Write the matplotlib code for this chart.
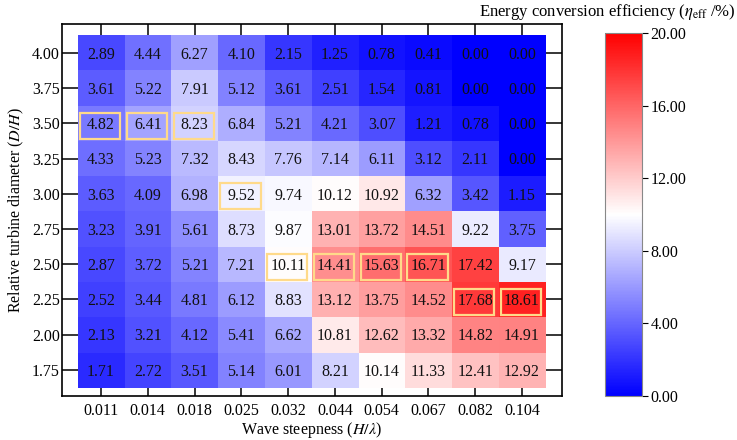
import numpy as np
import matplotlib.pyplot as plt
from matplotlib.patches import Rectangle

plt.rcParams['font.family'] = ['Liberation Serif', 'DejaVu Serif']
plt.rcParams['mathtext.fontset'] = 'stix'

# wave steepness (columns) and relative diameter (rows, top to bottom)
steepness = ['0.011', '0.014', '0.018', '0.025', '0.032',
             '0.044', '0.054', '0.067', '0.082', '0.104']
diameter = ['4.00', '3.75', '3.50', '3.25', '3.00',
            '2.75', '2.50', '2.25', '2.00', '1.75']

row_400 = [2.89, 4.44, 6.27, 4.10, 2.15, 1.25, 0.78, 0.41, 0.00, 0.00]
row_375 = [3.61, 5.22, 7.91, 5.12, 3.61, 2.51, 1.54, 0.81, 0.00, 0.00]
row_350 = [4.82, 6.41, 8.23, 6.84, 5.21, 4.21, 3.07, 1.21, 0.78, 0.00]
row_325 = [4.33, 5.23, 7.32, 8.43, 7.76, 7.14, 6.11, 3.12, 2.11, 0.00]
row_300 = [3.63, 4.09, 6.98, 9.52, 9.74, 10.12, 10.92, 6.32, 3.42, 1.15]
row_275 = [3.23, 3.91, 5.61, 8.73, 9.87, 13.01, 13.72, 14.51, 9.22, 3.75]
row_250 = [2.87, 3.72, 5.21, 7.21, 10.11, 14.41, 15.63, 16.71, 17.42, 9.17]
row_225 = [2.52, 3.44, 4.81, 6.12, 8.83, 13.12, 13.75, 14.52, 17.68, 18.61]
row_200 = [2.13, 3.21, 4.12, 5.41, 6.62, 10.81, 12.62, 13.32, 14.82, 14.91]
row_175 = [1.71, 2.72, 3.51, 5.14, 6.01, 8.21, 10.14, 11.33, 12.41, 12.92]

eff = np.array([row_400, row_375, row_350, row_325, row_300,
                row_275, row_250, row_225, row_200, row_175])

cbar_ticks = [0, 4, 8, 12, 16, 20]

fig = plt.figure(figsize=(7.37, 4.40), dpi=100)
W, H = 737, 440
ax = fig.add_axes([62 / W, 1 - 396 / H, 500 / W, 372 / H])
cax = fig.add_axes([605 / W, 1 - 396 / H, 37 / W, 363 / H])

im = ax.imshow(eff, cmap='bwr', vmin=0, vmax=20, aspect='auto',
               interpolation='nearest', zorder=1)
ax.set_axisbelow(True)

for i in range(eff.shape[0]):
    for j in range(eff.shape[1]):
        ax.text(j, i + 0.05, f'{eff[i, j]:.2f}', ha='center', va='center',
                fontsize=11.5, color='#111111', zorder=3)

# outline the best diameter of each steepness
best = eff.argmax(axis=0)
for j, i in enumerate(best):
    ax.add_patch(Rectangle((j - 0.45, i - 0.30), 0.86, 0.74, fill=False,
                           edgecolor='#FFDA8A', linewidth=1.6, zorder=4))

ax.set_xlim(-0.834, 9.855)
ax.set_ylim(9.74, -0.82)
ax.set_xticks(range(len(steepness)))
ax.set_xticklabels(steepness)
ax.set_yticks(range(len(diameter)))
ax.set_yticklabels(diameter)
ax.tick_params(axis='both', direction='in', length=14, width=1.1,
               labelsize=11.5, top=True, right=True)
ax.tick_params(axis='x', pad=5)
ax.tick_params(axis='y', pad=1.5)
for sp in ax.spines.values():
    sp.set_linewidth(1.2)

ax.set_xlabel(r'Wave steepness ($H/\lambda$)', fontsize=11.5, labelpad=0.5)
ax.set_ylabel(r'Relative turbine diameter ($D/H$)', fontsize=11.5, labelpad=4)

cb = fig.colorbar(im, cax=cax, ticks=cbar_ticks, format='%.2f')
cb.outline.set_edgecolor('#888888')
cb.outline.set_linewidth(0.8)
cax.tick_params(labelsize=11.5, length=4, width=0.8, pad=2)

fig.text(736 / W, 1 - 12 / H,
         r'Energy conversion efficiency ($\eta_{\mathrm{eff}}$ /%)',
         ha='right', va='center', fontsize=12)

fig.savefig('out.png', dpi=100)
